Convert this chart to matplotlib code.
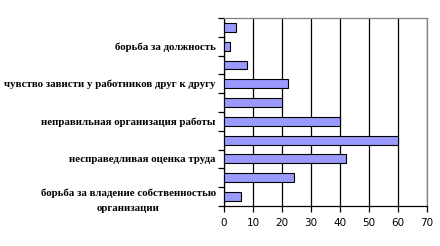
import matplotlib

matplotlib.use("Agg")
import matplotlib.pyplot as plt
import numpy as np

# categories bottom to top; only every other label is shown in the reference
categories = [
    "борьба за владение собственностью\nорганизации",
    "",
    "несправедливая оценка труда",
    "",
    "неправильная организация работы",
    "",
    "чувство зависти у работников друг к другу",
    "",
    "борьба за должность",
    "",
]
values = [6, 24, 42, 60, 40, 20, 22, 8, 2, 4]
x_ticks = [0, 10, 20, 30, 40, 50, 60, 70]

fig = plt.figure(figsize=(4.4, 2.46), dpi=100)
ax = fig.add_axes([0.509, 0.163, 0.461, 0.764])

y = np.arange(len(values))
ax.barh(y, values, height=0.47, color="#9999FF", edgecolor="black", linewidth=0.8, zorder=3)

ax.set_xlim(0, 70)
ax.set_ylim(-0.5, len(values) - 0.5)
ax.set_xticks(x_ticks)
ax.set_xticklabels([str(v) for v in x_ticks], fontsize=7.5, family="DejaVu Sans")
ax.xaxis.grid(True, color="black", linewidth=0.9, zorder=1)

ax.set_yticks(y)
ax.set_yticklabels(categories, fontsize=7.8, family="Liberation Serif",
                   fontweight="bold", linespacing=1.9, multialignment="center")
ax.tick_params(axis="y", length=0, pad=6)
ax.set_yticks(np.arange(-0.5, len(values)), minor=True)
ax.tick_params(axis="y", which="minor", length=4, width=0.9, direction="out")
ax.tick_params(axis="x", length=4, width=0.9, direction="out", pad=5)

for side in ("top", "right"):
    ax.spines[side].set_color("#808080")
    ax.spines[side].set_linewidth(0.9)
for side in ("left", "bottom"):
    ax.spines[side].set_color("black")
    ax.spines[side].set_linewidth(0.9)

fig.savefig("out.png", dpi=100)
